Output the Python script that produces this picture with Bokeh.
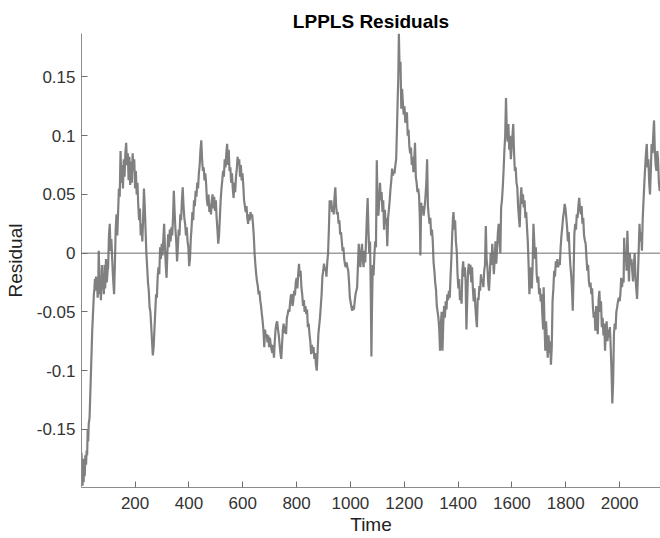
from bokeh.plotting import figure
from bokeh.models import Range1d, FixedTicker, Span
from bokeh.embed import file_html
from bokeh.resources import INLINE

# (time, residual) pairs, in segments
seg_a = [(1,-0.170),(3,-0.185),(5,-0.198),(7,-0.175),(9,-0.195),(11,-0.178),(13,-0.190),(15,-0.172),
         (18,-0.180),(20,-0.168),(22,-0.172),(24,-0.150),(26,-0.160),(28,-0.145),(31,-0.140),(33,-0.125),
         (35,-0.110),(37,-0.095),(39,-0.080),(41,-0.065),(43,-0.055),(45,-0.045),(47,-0.035),(49,-0.030),
         (51,-0.022),(53,-0.028),(55,-0.020),(57,-0.032),(59,-0.025),(61,-0.038),(63,-0.030),(65,0.002),
         (67,-0.015),(69,-0.035),(71,-0.025),(73,-0.040),(75,-0.028),(77,-0.010),(79,-0.030),(81,-0.022),
         (84,-0.035),(87,-0.010),(89,-0.030),(92,-0.005),(95,-0.025),(98,-0.015),(100,-0.012),(103,0.015),
         (106,0.025),(109,0.002),(112,0.012),(115,-0.005),(118,-0.020),(122,-0.035),(125,-0.010),(128,0.020),
         (131,0.033),(134,0.015),(137,0.035),(140,0.055),(143,0.048),(146,0.087),(149,0.060),(152,0.075),
         (155,0.055),(158,0.080),(161,0.065),(164,0.085),(167,0.094),(170,0.075),(173,0.085),(176,0.062),
         (179,0.082),(182,0.058),(185,0.078),(188,0.060),(191,0.085),(194,0.070),(197,0.080),(200,0.055),
         (203,0.070),(206,0.050),(209,0.060),(212,0.040),(215,0.028),(218,0.038),(221,0.015),(224,0.025),
         (227,0.010),(230,0.030),(233,0.055),(236,0.040),(239,0.020),(242,0.000),(245,-0.012),(248,-0.025),
         (251,-0.032),(254,-0.046),(257,-0.050),(260,-0.062),(263,-0.075),(266,-0.087)]

seg_b = [(269,-0.080),(272,-0.065),(275,-0.050),(278,-0.035),(281,-0.038),(284,-0.020),(287,-0.012),
         (290,-0.018),(293,0.005),(296,-0.005),(299,0.008),(302,-0.002),(305,0.012),(308,0.025),(311,0.005),
         (314,-0.010),(317,-0.021),(320,0.000),(323,0.016),(326,0.005),(329,0.020),(332,0.010),(335,0.022),
         (338,0.015),(341,0.030),(344,0.053),(347,0.035),(350,0.020),(353,0.010),(356,-0.007),(359,0.005),
         (362,0.020),(365,0.015),(368,0.033),(371,0.028),(374,0.045),(377,0.056),(380,0.040),(383,0.030),
         (386,0.025),(389,0.015),(392,0.022),(395,0.010),(398,0.005),(401,-0.011),(404,-0.005),(407,0.012),
         (410,0.022),(413,0.035),(416,0.028),(419,0.045),(422,0.040),(425,0.053),(428,0.048),(431,0.060),
         (434,0.055),(437,0.068),(440,0.075),(443,0.088),(446,0.096),(449,0.080),(452,0.070),(455,0.073),
         (458,0.062),(461,0.068),(464,0.059),(467,0.045),(470,0.040),(473,0.050),(476,0.035),(479,0.042),
         (482,0.033),(485,0.045),(488,0.050),(491,0.038),(494,0.048),(497,0.036),(500,0.045),(503,0.030),
         (506,0.020),(509,0.008),(512,0.015),(515,0.030),(518,0.045),(521,0.055),(524,0.062),(527,0.070),
         (530,0.065),(533,0.080),(536,0.073)]

seg_c = [(539,0.085),(542,0.093),(545,0.075),(548,0.088),(551,0.070),(554,0.073),(557,0.060),(560,0.068),
         (563,0.055),(566,0.047),(569,0.060),(572,0.052),(575,0.065),(578,0.072),(581,0.082),(584,0.075),
         (587,0.080),(590,0.065),(593,0.075),(596,0.062),(599,0.068),(602,0.058),(605,0.045),(608,0.040),
         (611,0.035),(614,0.040),(617,0.030),(620,0.025),(623,0.033),(626,0.028),(629,0.035),(632,0.030),
         (635,0.033),(638,0.025),(641,0.015),(644,0.000),(647,-0.010),(650,-0.018),(653,-0.024),(656,-0.028),
         (659,-0.035),(662,-0.032),(665,-0.040),(668,-0.045),(671,-0.052),(674,-0.058),(677,-0.066),(680,-0.080),
         (683,-0.065),(686,-0.072),(689,-0.069),(692,-0.076),(695,-0.070),(698,-0.080),(701,-0.072),(704,-0.078),
         (707,-0.082),(710,-0.085),(713,-0.078),(716,-0.089),(719,-0.075),(722,-0.065),(725,-0.060),(728,-0.058),
         (731,-0.065),(734,-0.070),(737,-0.078),(740,-0.085),(743,-0.090),(746,-0.078),(749,-0.065),(752,-0.060),
         (755,-0.068),(758,-0.062),(761,-0.069),(764,-0.055),(767,-0.052),(770,-0.048),(773,-0.050),(776,-0.042),
         (779,-0.036),(782,-0.035),(785,-0.045),(788,-0.040),(791,-0.032),(794,-0.036),(797,-0.025),(800,-0.021)]

seg_d = [(803,-0.030),(806,-0.018),(809,-0.009),(812,-0.020),(815,-0.015),(818,-0.029),(821,-0.035),
         (824,-0.045),(827,-0.040),(830,-0.050),(833,-0.045),(836,-0.052),(839,-0.048),(842,-0.063),(845,-0.060),
         (848,-0.069),(851,-0.075),(854,-0.086),(857,-0.078),(860,-0.085),(863,-0.080),(866,-0.090),(869,-0.085),
         (872,-0.095),(875,-0.100),(878,-0.085),(881,-0.069),(884,-0.062),(887,-0.055),(890,-0.045),(893,-0.035),
         (896,-0.020),(899,-0.015),(902,-0.009),(905,-0.015),(908,-0.012),(911,-0.020),(914,-0.008),(917,0.000),
         (920,0.020),(923,0.045),(926,0.038),(929,0.045),(932,0.035),(935,0.040),(938,0.033),(941,0.048),
         (944,0.056),(947,0.040),(950,0.033),(953,0.035),(956,0.025),(959,0.028),(962,0.016),(965,0.018),
         (968,0.010),(971,0.002),(974,0.005),(977,-0.005),(980,-0.010),(983,-0.012),(986,-0.008),(989,-0.012),
         (992,-0.015),(995,-0.025),(998,-0.038),(1001,-0.042),(1004,-0.046),(1007,-0.049),(1010,-0.045),
         (1013,-0.048),(1016,-0.041),(1019,-0.035),(1022,-0.032),(1025,-0.029),(1028,-0.010),(1031,0.008),
         (1034,-0.005),(1037,-0.012),(1040,0.000),(1043,0.008),(1046,-0.005),(1049,-0.012),(1052,0.002),
         (1055,-0.008),(1058,0.010),(1061,0.030),(1064,0.047),(1067,0.020),(1070,0.000)]

seg_e = [(1073,0.010),(1076,-0.040),(1078,-0.088),(1080,-0.050),(1083,-0.010),(1086,-0.019),(1089,-0.002),
         (1092,0.010),(1095,0.005),(1098,0.079),(1101,0.040),(1104,0.032),(1107,0.045),(1110,0.060),(1113,0.045),
         (1116,0.052),(1119,0.035),(1122,0.045),(1125,0.020),(1128,0.037),(1131,0.025),(1134,0.030),(1137,0.006),
         (1140,0.030),(1143,0.037),(1146,0.045),(1149,0.055),(1152,0.062),(1155,0.072),(1158,0.066),(1161,0.070),
         (1164,0.068),(1167,0.075),(1170,0.080),(1173,0.106),(1176,0.134),(1178,0.150),(1180,0.187),(1183,0.154),
         (1186,0.163),(1189,0.123),(1192,0.140),(1195,0.128),(1198,0.118),(1201,0.125),(1204,0.111),(1207,0.115),
         (1210,0.120),(1213,0.100),(1216,0.105),(1219,0.091),(1222,0.085),(1225,0.090),(1228,0.075),(1231,0.082),
         (1234,0.069),(1237,0.078),(1240,0.094),(1243,0.065),(1246,0.060),(1249,0.052),(1252,0.055),(1255,0.049),
         (1258,0.030),(1260,-0.002),(1263,0.043),(1266,0.035),(1269,0.040),(1272,0.032),(1275,0.038),(1278,0.045),
         (1282,0.060),(1285,0.080),(1288,0.040),(1291,0.032),(1294,0.025),(1297,0.030),(1300,0.015),(1303,0.020),
         (1306,0.010),(1309,-0.008),(1312,-0.015),(1315,-0.025),(1318,-0.031),(1321,-0.045),(1324,-0.050),
         (1327,-0.055),(1330,-0.065)]

seg_f = [(1333,-0.083),(1336,-0.060),(1339,-0.050),(1342,-0.083),(1345,-0.060),(1348,-0.045),(1351,-0.055),
         (1354,-0.041),(1357,-0.048),(1360,-0.035),(1363,-0.040),(1366,-0.032),(1369,-0.038),(1372,-0.020),
         (1375,-0.005),(1378,0.015),(1381,0.030),(1383,0.035),(1386,0.020),(1389,0.028),(1392,0.010),(1395,0.002),
         (1398,-0.018),(1401,-0.030),(1404,-0.022),(1407,-0.040),(1410,-0.035),(1413,-0.043),(1416,-0.015),
         (1419,-0.007),(1422,-0.020),(1425,-0.012),(1428,-0.024),(1431,-0.065),(1434,-0.040),(1437,-0.015),
         (1440,-0.009),(1443,-0.018),(1446,-0.010),(1449,-0.025),(1452,-0.012),(1455,-0.030),(1458,-0.041),
         (1461,-0.030),(1464,-0.045),(1467,-0.055),(1470,-0.063),(1473,-0.038),(1476,-0.040),(1479,-0.028),
         (1482,-0.032),(1485,-0.018),(1488,-0.025),(1491,-0.022),(1494,-0.029),(1497,-0.015),(1500,-0.010),
         (1503,0.023),(1506,-0.005),(1509,-0.012),(1512,-0.025),(1515,-0.032),(1518,-0.018),(1521,0.000),
         (1524,-0.010),(1527,0.008),(1530,-0.005),(1533,-0.018),(1536,-0.005),(1539,0.010),(1542,-0.009),
         (1545,0.005),(1548,0.018),(1551,0.025),(1554,0.010),(1557,0.000),(1560,0.039),(1563,0.045),(1566,0.056),
         (1569,0.070),(1572,0.087),(1575,0.100),(1578,0.132),(1581,0.105),(1584,0.095),(1587,0.110),(1590,0.088),
         (1593,0.100),(1596,0.080),(1599,0.090),(1602,0.100),(1605,0.110),(1608,0.085)]

seg_g = [(1611,0.070),(1614,0.073),(1617,0.060),(1620,0.056),(1623,0.040),(1626,0.030),(1629,0.022),
         (1632,0.045),(1635,0.056),(1638,0.042),(1641,0.050),(1644,0.039),(1647,0.045),(1650,0.030),(1653,0.035),
         (1656,0.022),(1659,0.010),(1662,-0.010),(1665,-0.035),(1668,-0.020),(1671,-0.012),(1674,-0.030),
         (1677,-0.010),(1680,0.025),(1683,0.010),(1686,-0.005),(1689,0.005),(1692,-0.018),(1695,-0.025),
         (1698,-0.020),(1701,-0.035),(1704,-0.030),(1707,-0.041),(1710,-0.035),(1713,-0.052),(1716,-0.065),
         (1718,-0.029),(1721,-0.060),(1724,-0.083),(1727,-0.058),(1730,-0.075),(1733,-0.089),(1736,-0.070),
         (1739,-0.085),(1742,-0.075),(1745,-0.095),(1748,-0.080),(1751,-0.041),(1754,-0.030),(1757,-0.015),
         (1760,-0.020),(1763,-0.007),(1766,-0.012),(1769,-0.005),(1772,-0.012),(1775,-0.008),(1778,-0.010),
         (1781,0.005),(1784,0.015),(1787,0.022),(1790,0.030),(1793,0.035),(1796,0.042),(1799,0.038),(1802,0.030),
         (1805,0.022),(1808,0.010),(1811,0.018),(1814,0.002),(1817,-0.010),(1820,-0.018),(1823,-0.030),
         (1826,-0.049),(1829,-0.020),(1832,0.016),(1835,0.025),(1838,0.020),(1841,0.033),(1844,0.030),(1847,0.040),
         (1850,0.047),(1853,0.038),(1856,0.033),(1859,0.040),(1862,0.025),(1865,0.030),(1868,0.015),(1871,0.011)]

seg_h = [(1874,0.008),(1877,-0.004),(1880,-0.015),(1883,-0.010),(1886,-0.024),(1889,-0.029),(1892,-0.025),
         (1895,-0.035),(1898,-0.030),(1901,-0.046),(1904,-0.055),(1907,-0.050),(1910,-0.066),(1913,-0.045),
         (1916,-0.060),(1919,-0.069),(1922,-0.040),(1925,-0.032),(1928,-0.050),(1931,-0.041),(1934,-0.063),
         (1937,-0.055),(1940,-0.070),(1943,-0.060),(1946,-0.083),(1949,-0.065),(1952,-0.058),(1955,-0.075),
         (1958,-0.065),(1961,-0.072),(1964,-0.063),(1967,-0.080),(1970,-0.100),(1973,-0.128),(1976,-0.110),
         (1979,-0.069),(1982,-0.060),(1985,-0.065),(1988,-0.050),(1991,-0.046),(1994,-0.041),(1997,-0.038),
         (2000,-0.041),(2003,-0.035),(2006,-0.021),(2009,-0.029),(2012,-0.022),(2015,-0.025),(2017,0.013),
         (2020,-0.005),(2023,0.000),(2026,-0.015),(2029,0.019),(2032,-0.005),(2035,-0.024),(2038,0.000),
         (2041,-0.010),(2044,-0.005),(2047,-0.015),(2050,-0.024),(2053,-0.010),(2056,0.000),(2059,-0.020),
         (2062,-0.030),(2065,-0.039),(2068,-0.020),(2071,0.002),(2074,0.025),(2077,0.010),(2080,0.018),
         (2083,0.002),(2086,0.030),(2089,0.045),(2092,0.060),(2095,0.073),(2098,0.085),(2101,0.093),(2104,0.073),
         (2107,0.080),(2110,0.060),(2113,0.050),(2116,0.070),(2119,0.093),(2122,0.085),(2125,0.100),(2128,0.113),
         (2131,0.087),(2134,0.075),(2137,0.070),(2140,0.087),(2143,0.080),(2146,0.060),(2149,0.053),(2152,0.055)]

x_ticks = [200, 400, 600, 800, 1000, 1200, 1400, 1600, 1800, 2000]
y_ticks = [-0.15, -0.1, -0.05, 0, 0.05, 0.1, 0.15]
y_tick_labels = ["-0.15", "-0.1", "-0.05", "0", "0.05", "0.1", "0.15"]

pairs = seg_a + seg_b + seg_c + seg_d + seg_e + seg_f + seg_g + seg_h
time = [t for t, r in pairs]
residual = [r for t, r in pairs]

FONT = "Liberation Sans"

p = figure(width=660, height=538, output_backend="svg", toolbar_location=None,
           x_range=Range1d(1, 2152), y_range=Range1d(-0.1995, 0.187),
           min_border_left=81, min_border_right=0, min_border_top=33, min_border_bottom=51,
           title="LPPLS Residuals")

p.title.text_font = FONT
p.title.text_font_style = "bold"
p.title.text_font_size = "19px"
p.title.align = "center"
p.title.text_color = "#000000"
p.title.standoff = 3

p.line(time, residual, line_color="#808080", line_width=2.2)

p.add_layout(Span(location=0, dimension="width", line_color="#6e6e6e", line_width=1))

p.xgrid.visible = False
p.ygrid.visible = False
p.outline_line_color = None

p.xaxis.ticker = FixedTicker(ticks=x_ticks)
p.yaxis.ticker = FixedTicker(ticks=y_ticks)
p.yaxis.major_label_overrides = {v: s for v, s in zip(y_ticks, y_tick_labels)}
p.xaxis.major_label_overrides = {v: str(v) for v in x_ticks}

for ax in (p.xaxis[0], p.yaxis[0]):
    ax.axis_line_color = "#8c8c8c"
    ax.axis_line_width = 1
    ax.major_tick_line_color = "#6e6e6e"
    ax.major_tick_in = 6
    ax.major_tick_out = 0
    ax.minor_tick_line_color = None
    ax.major_label_text_font = FONT
    ax.major_label_text_font_size = "17px"
    ax.major_label_text_color = "#333333"
    ax.axis_label_text_font = FONT
    ax.axis_label_text_font_size = "19px"
    ax.axis_label_text_font_style = "normal"
    ax.axis_label_text_color = "#222222"

p.xaxis.axis_label = "Time"
p.yaxis.axis_label = "Residual"
p.xaxis.major_label_standoff = 9
p.xaxis.axis_label_standoff = 2
p.yaxis.major_label_standoff = 6
p.yaxis.axis_label_standoff = 8

open("out.html", "w").write(file_html(p, INLINE))
